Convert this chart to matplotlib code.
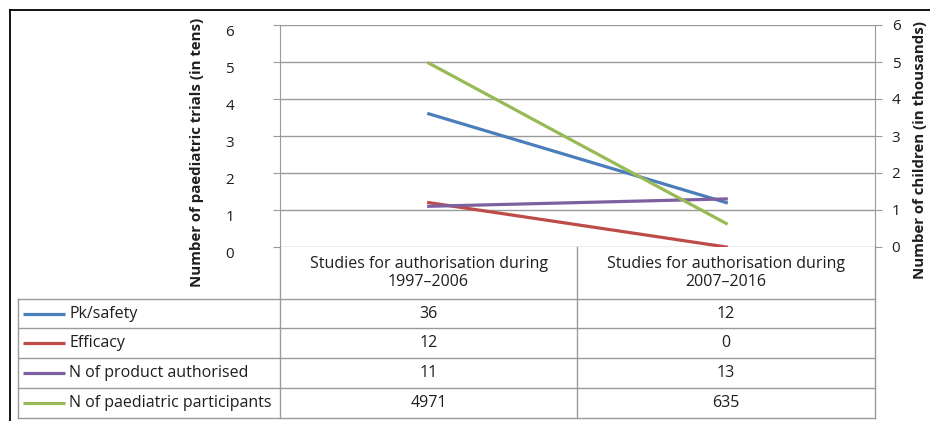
"""Paediatric trials before/after 2007: Excel-style line chart with a data table underneath."""
import matplotlib
matplotlib.use("Agg")
import matplotlib.pyplot as plt

plt.rcParams["font.family"] = ["Open Sans", "DejaVu Sans"]

W, H = 930, 421

# data
periods = ["Studies for authorisation during\n1997\u20132006",
           "Studies for authorisation during\n2007\u20132016"]
series = ["Pk/safety", "Efficacy", "N of product authorised", "N of paediatric participants"]
pk_safety = [36, 12]
efficacy = [12, 0]
products = [11, 13]
participants = [4971, 635]
colors = ["#4A7EBB", "#BE4B48", "#7D60A0", "#98B954"]
y_ticks = [0, 1, 2, 3, 4, 5, 6]

TXT = "#1E1E1E"
GRID = "#9A9A9A"
FS = 11.5

# pixel layout of the plot area
L, R, T, B = 280, 875, 25, 247

fig = plt.figure(figsize=(W / 100, H / 100), dpi=100)

# overlay in pixel coordinates for the frame and the data table
ov = fig.add_axes([0, 0, 1, 1], zorder=-1)
ov.set_xlim(0, W)
ov.set_ylim(H, 0)
ov.axis("off")

ax = fig.add_axes([L / W, 1 - B / H, (R - L) / W, (B - T) / H])
ax.set_facecolor("none")
xs = [0.5, 1.5]
ax.plot(xs, [v / 10 for v in pk_safety], color=colors[0], lw=2.3)
ax.plot(xs, [v / 10 for v in efficacy], color=colors[1], lw=2.3)
ax.plot(xs, [v / 10 for v in products], color=colors[2], lw=2.3)
ax.set_xlim(0, 2)
ax.set_ylim(0, 6)
ax.set_xticks([])
ax.set_yticks(y_ticks)
ax.grid(axis="y", color=GRID, lw=1.0)
ax.set_axisbelow(True)
for s in ("top", "bottom", "right"):
    ax.spines[s].set_visible(False)
ax.spines["left"].set_color(GRID)
ax.tick_params(axis="y", direction="out", length=5, color=GRID, pad=28,
               labelsize=11, labelcolor=TXT)
plt.setp(ax.get_yticklabels(), va="top")

ax2 = ax.twinx()
ax2.plot(xs, [v / 1000 for v in participants], color=colors[3], lw=2.3)
ax2.set_ylim(0, 6)
ax2.set_yticks(y_ticks)
for s in ("top", "bottom", "left"):
    ax2.spines[s].set_visible(False)
ax2.spines["right"].set_color(GRID)
ax2.tick_params(axis="y", direction="out", length=5, color=GRID, pad=7,
                labelsize=11, labelcolor=TXT)

fig.text(197 / W, 1 - 152 / H, "Number of paediatric trials (in tens)", rotation=90,
         ha="center", va="center", fontsize=10.8, fontweight="bold", color=TXT)
fig.text(920 / W, 1 - 150 / H, "Number of children (in thousands)", rotation=90,
         ha="center", va="center", fontsize=10.8, fontweight="bold", color=TXT)

# outer black frame (top and left)
ov.plot([10, W], [10, 10], color="black", lw=1.3)
ov.plot([10, 10], [10, H], color="black", lw=1.3)

# data table
rows_y = [299, 328, 358, 388, 418]
col_x = [18, L, 577, R]
for y in rows_y:
    ov.plot([col_x[0], R], [y, y], color=GRID, lw=1.0)
ov.plot([col_x[0], col_x[0]], [rows_y[0], rows_y[-1]], color=GRID, lw=1.0)
for x in col_x[1:]:
    ov.plot([x, x], [B, rows_y[-1]], color=GRID, lw=1.0)

col_c = [(col_x[1] + col_x[2]) / 2, (col_x[2] + col_x[3]) / 2]
for cx, lab in zip(col_c, periods):
    ov.text(cx, (B + rows_y[0]) / 2, lab, ha="center", va="center",
            fontsize=FS, color=TXT, linespacing=1.15)

values = [pk_safety, efficacy, products, participants]
for i, (name, vals, c) in enumerate(zip(series, values, colors)):
    yc = (rows_y[i] + rows_y[i + 1]) / 2
    ov.plot([23, 65], [yc, yc], color=c, lw=2.3, solid_capstyle="butt")
    ov.text(69, yc, name, ha="left", va="center", fontsize=FS, color=TXT)
    for cx, v in zip(col_c, vals):
        ov.text(cx, yc, str(v), ha="center", va="center", fontsize=FS, color=TXT)

fig.savefig("out.png", dpi=100)
